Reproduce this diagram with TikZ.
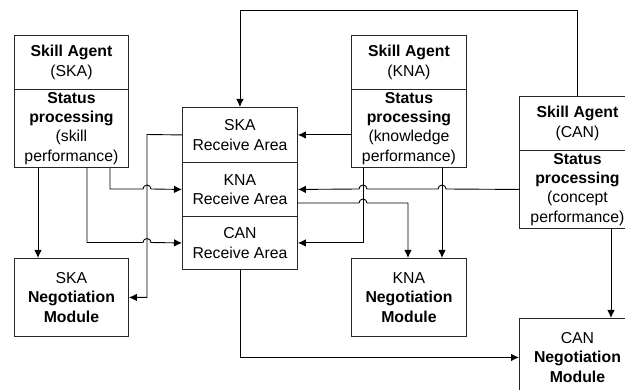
\documentclass[tikz,border=0pt]{standalone}
\usepackage{fontspec}
\setmainfont{Liberation Sans}
\usetikzlibrary{arrows.meta}
\begin{document}
\begin{tikzpicture}[x=1pt,y=-1pt,
  font=\fontsize{15.8}{19.3}\selectfont,
  box/.style={draw=black!85, line width=0.9pt, align=center, inner sep=1pt, anchor=north west},
  conn/.style={draw=black, line width=0.9pt},
  arr/.style={conn, -{Latex[length=8pt,width=7.5pt]}}]
\useasboundingbox (0,0) rectangle (625,390);
\clip (0,0) rectangle (625,390);
% agents
\node[box, minimum width=114pt, minimum height=54pt] (skaT) at (14,35) {\textbf{Skill Agent}\\(SKA)};
\node[box, minimum width=114pt, minimum height=78pt] (skaB) at (14,89) {\textbf{Status}\\\textbf{processing}\\(skill\\performance)};
\node[box, minimum width=115pt, minimum height=54pt] (knaT) at (351,35) {\textbf{Skill Agent}\\(KNA)};
\node[box, minimum width=115pt, minimum height=78pt] (knaB) at (351,89) {\textbf{Status}\\\textbf{processing}\\(knowledge\\performance)};
\node[box, minimum width=116pt, minimum height=54pt] (canT) at (519,96) {\textbf{Skill Agent}\\(CAN)};
\node[box, minimum width=116pt, minimum height=78pt] (canB) at (519,150) {\textbf{Status}\\\textbf{processing}\\(concept\\performance)};
% receive areas
\node[box, minimum width=115pt, minimum height=55pt] (skaR) at (182,107) {SKA\\Receive Area};
\node[box, minimum width=115pt, minimum height=54pt] (knaR) at (182,162) {KNA\\Receive Area};
\node[box, minimum width=115pt, minimum height=53pt] (canR) at (182,216) {CAN\\Receive Area};
% negotiation modules
\node[box, minimum width=114pt, minimum height=78pt] (skaN) at (14,258) {SKA\\\textbf{Negotiation}\\\textbf{Module}};
\node[box, minimum width=115pt, minimum height=78pt] (knaN) at (351,258) {KNA\\\textbf{Negotiation}\\\textbf{Module}};
\node[box, minimum width=116pt, minimum height=78pt] (canN) at (519,318) {CAN\\\textbf{Negotiation}\\\textbf{Module}};
% connectors
\draw[arr] (canT.north) -- ++(0,-86) -| (skaR.north);
\draw[arr] (knaB.west |- skaR.east) -- (skaR.east);
\draw[arr] (canB.west |- knaR.east) -- (446,189) arc[start angle=0,end angle=-180,radius=4] -- (367,189) arc[start angle=0,end angle=-180,radius=4] -- (knaR.east);
\draw[arr] (297,203) -- (359,203) arc[start angle=180,end angle=360,radius=4] -- (408,203) -- (knaN.north -| 408,0);
\draw[arr] (knaB.south -| 363,0) |- (canR.east);
\draw[arr] (knaB.south -| 442,0) -- (knaN.north -| 442,0);
\draw[arr] (canR.south) |- (canN.west);
\draw[arr] (canB.south -| 611,0) -- (canN.north -| 611,0);
\draw[arr] (skaB.south -| 38,0) -- (skaN.north -| 38,0);
\draw[arr] (skaB.south -| 87,0) |- (143,242.5) arc[start angle=180,end angle=360,radius=4] -- (canR.west);
\draw[arr] (skaB.south -| 110,0) |- (143,189) arc[start angle=180,end angle=360,radius=4] -- (knaR.west);
\draw[arr] (skaR.west) -- (147,134.5) |- (skaN.east);
\end{tikzpicture}
\end{document}
